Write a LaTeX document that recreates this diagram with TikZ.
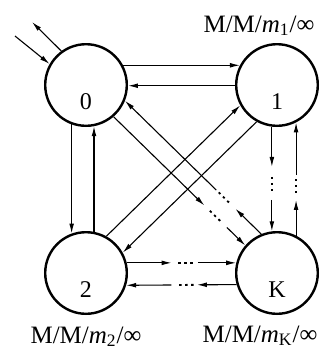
\documentclass[tikz,border=0pt]{standalone}
\usepackage{fontspec}
\setmainfont{Liberation Serif}
\usetikzlibrary{arrows.meta}
\tikzset{
  state/.style={circle, draw, line width=1.2pt, minimum size=40.8pt, inner sep=0pt},
  num/.style={font=\fontsize{12}{12}\selectfont, inner sep=0pt},
  lab/.style={font=\fontsize{12.5}{13}\selectfont, inner sep=0pt, anchor=base},
  conn/.style={line width=0.55pt, -{Latex[length=5pt,width=2.4pt]}},
  dotseg/.style={line width=0.9pt, dash pattern=on 1.2pt off 1.8pt},
}
\newcommand\dotconn[6]{%
  \path (#1) -- (#2) coordinate[pos=#3] (da) coordinate[pos=#4] (db)
        coordinate[pos=#5] (dc) coordinate[pos=#6] (dd);
  \draw[conn] (#1) -- (da);
  \draw[dotseg] (db) -- (dc);
  \draw[conn] (dd) -- (#2);
}
\begin{document}
\begin{tikzpicture}[x=0.5pt,y=-0.5pt]
\useasboundingbox (0,0) rectangle (320,349);
% states
\node[state] (n0) at (86,85) {};
\node[state] (n1) at (277,85) {};
\node[state] (n2) at (86,273) {};
\node[state] (nK) at (277,273) {};
\node[num] (t0) at ([yshift=-8.5pt]n0.center) {0};
\node[num] (t1) at ([yshift=-8.5pt]n1.center) {1};
\node[num] (t2) at ([yshift=-8.5pt]n2.center) {2};
\node[num] (tK) at ([yshift=-8.5pt]nK.center) {K};
% labels
\node[lab] (l1) at (259,32) {M/M/\textit{m}\textsubscript{1}/∞};
\node[lab] (l2) at (86,343) {M/M/\textit{m}\textsubscript{2}/∞};
\node[lab] (lK) at (260,342) {M/M/\textit{m}\textsubscript{K}/∞};
% external arrows
\coordinate (ein) at (15,36);
\coordinate (eout) at (32,22);
\draw[conn] (ein) -- (n0.150);
\draw[conn] (n0.126) -- (eout);
% 0 <-> 1
\draw[conn] (n0.28) -- (n1.152);
\draw[conn] (n1.181) -- (n0.-1);
% 0 <-> 2
\draw[conn] (n0.-110) -- (n2.110);
\draw[conn] (n2.79) -- (n0.-79);
% 2 <-> 1 diagonals
\draw[conn] (n2.61) -- (n1.-151);
\draw[conn] (n1.-119) -- (n2.29);
% dotted connectors
\dotconn{n2.14}{nK.166}{0.41}{0.47}{0.62}{0.65}
\dotconn{nK.-164}{n2.-17}{0.36}{0.39}{0.54}{0.59}
\dotconn{n1.-97}{nK.97}{0.385}{0.48}{0.635}{0.70}
\dotconn{nK.63}{n1.-63}{0.315}{0.377}{0.519}{0.535}
\dotconn{n0.-49}{nK.139}{0.69}{0.731}{0.817}{0.86}
\dotconn{nK.112}{n0.-22}{0.19}{0.237}{0.321}{0.33}
\end{tikzpicture}
\end{document}
